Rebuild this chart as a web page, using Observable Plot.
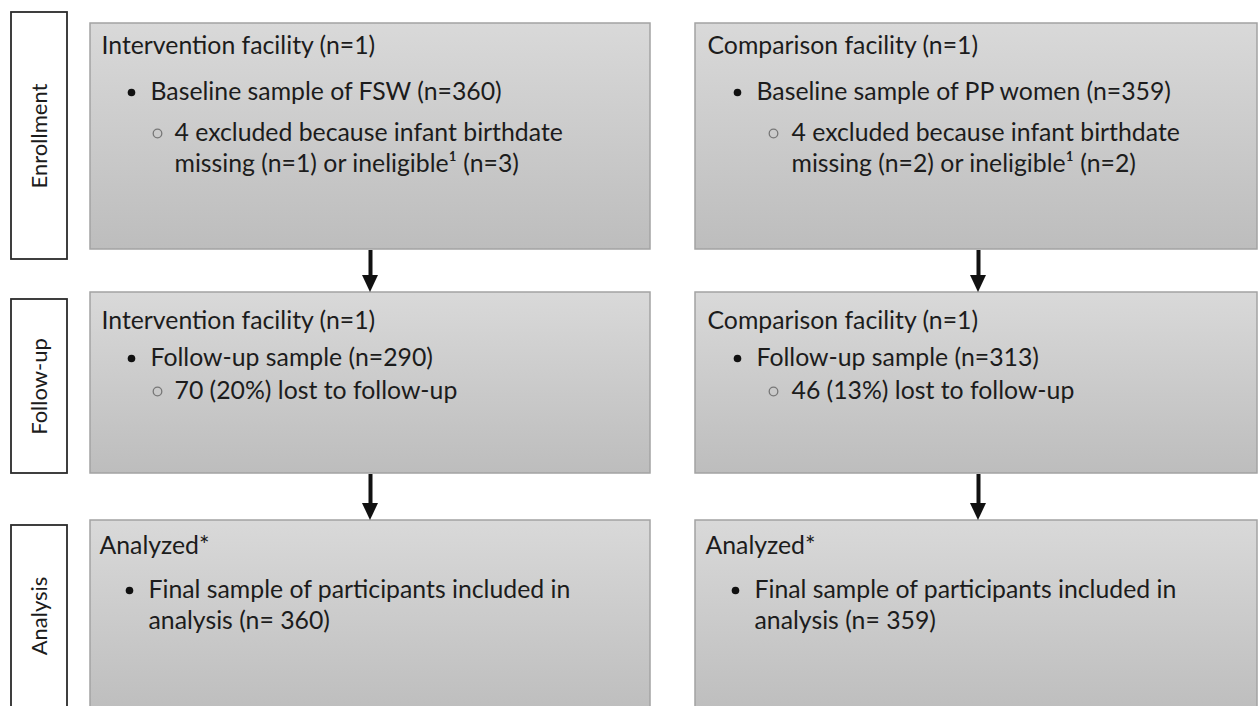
<!DOCTYPE html>
<html><head><meta charset="utf-8">
<script src="https://cdn.jsdelivr.net/npm/d3@7"></script>
<script src="https://cdn.jsdelivr.net/npm/@observablehq/plot@0.6"></script>
<style>html,body{margin:0;padding:0;background:#fff}svg{display:block}</style>
</head><body><div id="chart"></div>
<script>
// ---- content ----
const stages = ["Enrollment", "Follow-up", "Analysis"];
const arms = ["Intervention", "Comparison"];
const enrollmentIntervention = ["Intervention facility (n=1)", "Baseline sample of FSW (n=360)", "4 excluded because infant birthdate", "missing (n=1) or ineligible\u00B9 (n=3)"];
const enrollmentComparison = ["Comparison facility (n=1)", "Baseline sample of PP women (n=359)", "4 excluded because infant birthdate", "missing (n=2) or ineligible\u00B9 (n=2)"];
const followupIntervention = ["Intervention facility (n=1)", "Follow-up sample (n=290)", "70 (20%) lost to follow-up"];
const followupComparison = ["Comparison facility (n=1)", "Follow-up sample (n=313)", "46 (13%) lost to follow-up"];
const analysisIntervention = ["Analyzed*", "Final sample of participants included in", "analysis (n= 360)"];
const analysisComparison = ["Analyzed*", "Final sample of participants included in", "analysis (n= 359)"];
// outline level of each line: h heading, b1 bullet, b2 sub-bullet, c1/c2 continuation
const enrollmentLevels = ["h", "b1", "b2", "c2"];
const followupLevels = ["h", "b1", "b2"];
const analysisLevels = ["h", "b1", "c1"];

// ---- layout (positions / styles) ----
const W = 1259, H = 706, FS = 24.8;
const colLayout = {
  Intervention: {x1: 90, x2: 650, h: 101, b1: 131, t1: 150, b2: 157, t2: 174, arrow: 370},
  Comparison:   {x1: 695, x2: 1257, h: 707, b1: 737, t1: 756, b2: 773, t2: 791, arrow: 978}
};
const rowLayout = {
  "Enrollment": {y1: 23, y2: 249, l1: 12, l2: 259, lines: [46, 92, 133, 164], dx: 0},
  "Follow-up":  {y1: 292, y2: 473, l1: 299, l2: 473, lines: [321, 358, 391], dx: 0},
  "Analysis":   {y1: 520, y2: 716, l1: 525, l2: 716, lines: [546, 590, 621], dx: -2}
};
const content = {
  "Enrollment": {Intervention: enrollmentIntervention, Comparison: enrollmentComparison, levels: enrollmentLevels},
  "Follow-up":  {Intervention: followupIntervention, Comparison: followupComparison, levels: followupLevels},
  "Analysis":   {Intervention: analysisIntervention, Comparison: analysisComparison, levels: analysisLevels}
};

// ---- derived tables ----
const boxes = [], lines = [], bullets = [], labels = [], arrowShafts = [], arrowHeads = [];
stages.forEach((s, si) => {
  const r = rowLayout[s];
  labels.push({stage: s, x1: 11, x2: 67, y1: r.l1, y2: r.l2});
  arms.forEach(a => {
    const c = colLayout[a];
    boxes.push({stage: s, arm: a, x1: c.x1, x2: c.x2, y1: r.y1, y2: r.y2});
    content[s][a].forEach((t, i) => {
      const lev = content[s].levels[i];
      const tx = lev === "h" ? c.h : (lev === "b1" || lev === "c1") ? c.t1 : c.t2;
      lines.push({text: t, x: tx + r.dx, y: r.lines[i]});
      if (lev === "b1") bullets.push({x: c.b1 + r.dx, y: r.lines[i], kind: "solid"});
      if (lev === "b2") bullets.push({x: c.b2 + r.dx, y: r.lines[i], kind: "open"});
    });
    if (si < stages.length - 1) {
      const next = rowLayout[stages[si + 1]];
      const id = s + a;
      const top = r.y2 + 1, tip = next.y1, headTop = tip - 17;
      arrowShafts.push({x: c.arrow, y1: top, y2: headTop + 2});
      arrowHeads.push({id, y: headTop, x1: c.arrow - 8, x2: c.arrow + 8});
      arrowHeads.push({id, y: tip, x1: c.arrow, x2: c.arrow});
    }
  });
});

const font = "Lato, 'Open Sans', sans-serif";
const chart = Plot.plot({
  width: W, height: H, margin: 0,
  x: {domain: [0, W], range: [0, W], axis: null},
  y: {domain: [0, H], range: [0, H], axis: null},
  style: {fontFamily: font, background: "#fff"},
  marks: [
    Plot.rect(boxes, {x1: "x1", x2: "x2", y1: "y1", y2: "y2", fill: "url(#boxGrad)", stroke: "#a3a3a3", strokeWidth: 1.5}),
    Plot.rect(labels, {x1: "x1", x2: "x2", y1: "y1", y2: "y2", fill: "#fff", stroke: "#2b2b2b", strokeWidth: 1.8}),
    Plot.text(labels, {x: d => (d.x1 + d.x2) / 2, y: d => (d.y1 + Math.min(d.y2, H)) / 2, text: "stage", rotate: -90, fontSize: 22, fill: "#1c1c1c", textAnchor: "middle", lineAnchor: "middle"}),
    Plot.ruleX(arrowShafts, {x: "x", y1: "y1", y2: "y2", stroke: "#111", strokeWidth: 4}),
    Plot.areaX(arrowHeads, {y: "y", x1: "x1", x2: "x2", z: "id", fill: "#111", curve: "linear"}),
    Plot.dot(bullets.filter(d => d.kind === "solid"), {x: "x", y: "y", r: 3.8, fill: "#111", stroke: null}),
    Plot.dot(bullets.filter(d => d.kind === "open"), {x: "x", y: "y", r: 4.3, fill: "none", stroke: "#777", strokeWidth: 1.3}),
    Plot.text(lines, {x: "x", y: "y", text: "text", textAnchor: "start", lineAnchor: "middle", fontSize: FS, fill: "#1c1c1c"})
  ]
});
const ns = "http://www.w3.org/2000/svg";
const defs = document.createElementNS(ns, "defs");
defs.innerHTML = '<linearGradient id="boxGrad" x1="0" y1="0" x2="0" y2="1"><stop offset="0" stop-color="#d9d9d9"/><stop offset="1" stop-color="#bdbdbd"/></linearGradient>';
chart.prepend(defs);
document.getElementById("chart").appendChild(chart);
</script>
</body></html>
